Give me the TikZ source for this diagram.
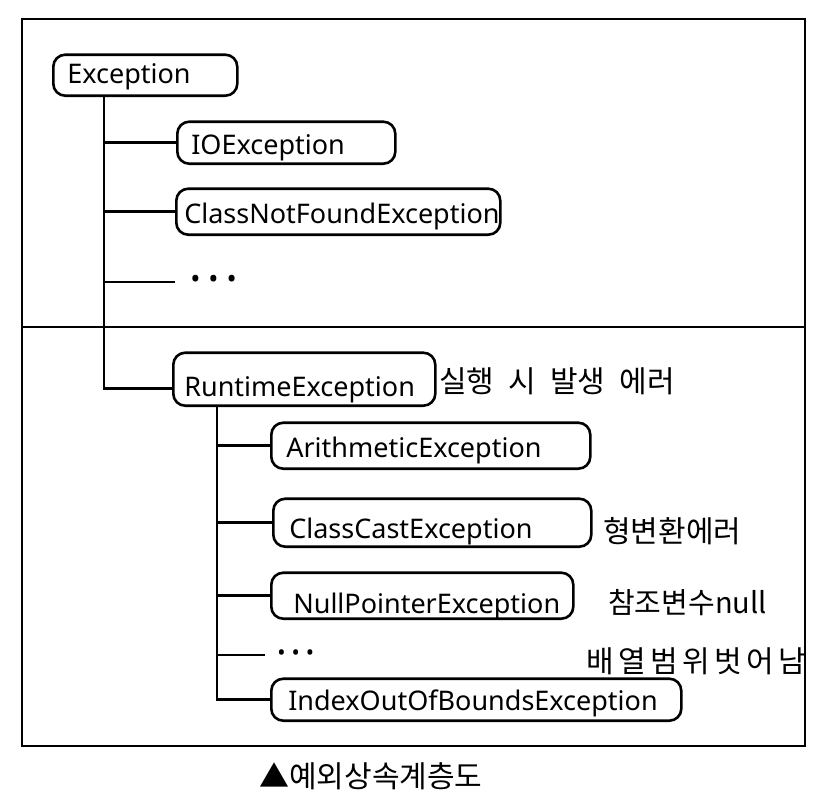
\documentclass[tikz,border=0pt]{standalone}
\usepackage{fontspec}
\setmainfont{Noto Sans}
\newfontfamily\kr[WordSpace=2.1]{Noto Sans CJK KR}
\begin{document}
\begin{tikzpicture}[x=1pt, y=-1pt, line width=2.6pt, font=\fontsize{27}{30}\selectfont,
  exc/.style={draw, rounded corners=12pt, anchor=south west, inner ysep=0pt, align=left},
  note/.style={anchor=west, inner sep=0pt, font=\kr\fontsize{30}{32}\selectfont},
  more/.style={anchor=west, inner ysep=0pt}]
\useasboundingbox (0,0) rectangle (829,796);
\draw (22,19) rectangle (805,746);
\draw (22,327)--(805,327);

% checked exceptions
\node[exc, inner xsep=14pt, text width=156pt, text height=29pt, text depth=12pt] (ex) at (52,97) {Exception};
\node[exc, inner xsep=14pt, text width=190pt, text height=33pt, text depth=9pt] (io) at (176,165) {IOException};
\node[exc, inner xsep=8pt, text width=308pt, text height=35pt, text depth=11pt] (cnf) at (175,236) {ClassNotFoundException};
\node[more, inner xsep=14pt] (d1) at (175,282) {•\hspace{8pt}•\hspace{8pt}•};

% runtime exceptions
\node[exc, inner xsep=11pt, text width=240pt, text height=44pt, text depth=9pt] (rt) at (172,407) {RuntimeException};
\node[exc, inner xsep=15pt, text width=289pt, text height=35pt, text depth=11pt] (ar) at (270,470) {ArithmeticException};
\node[exc, inner xsep=16pt, text width=286pt, text height=40pt, text depth=8pt] (cc) at (272,548) {ClassCastException};
\node[exc, inner xsep=22pt, text width=258pt, text height=41pt, text depth=5pt] (np) at (270,620) {NullPointerException};
\node[more, inner xsep=11pt, font=\fontsize{22}{24}\selectfont] (d2) at (265,655) {•\hspace{6pt}•\hspace{6pt}•};
\node[exc, inner xsep=17pt, text width=376pt, text height=32pt, text depth=10pt] (iob) at (270,722) {IndexOutOfBoundsException};

% tree lines
\path ([xshift=52pt]ex.south west) coordinate (t1);
\draw (t1) |- (io.west);
\draw (t1) |- (cnf.west);
\draw (t1) |- (d1.west);
\draw (t1) |- ([yshift=-9.5pt]rt.west);
\path ([xshift=45pt]rt.south west) coordinate (t2);
\draw (t2) |- (ar.west);
\draw (t2) |- (cc.west);
\draw (t2) |- (np.west);
\draw (t2) |- (d2.west);
\draw (t2) |- (iob.west);

% notes
\node[note] (n1) at (438,381) {실행 시 발생 에러};
\node[note] (n2) at (602,531) {형변환에러};
\node[note] (n3) at (607,603) {\fontsize{29}{32}\selectfont 참조변수null};
\node[note] (n4) at (585,661) {\addfontfeature{LetterSpace=15}배열범위벗어남};
\node[note] (cap) at (258,776) {▲예외상속계층도};
\end{tikzpicture}
\end{document}
